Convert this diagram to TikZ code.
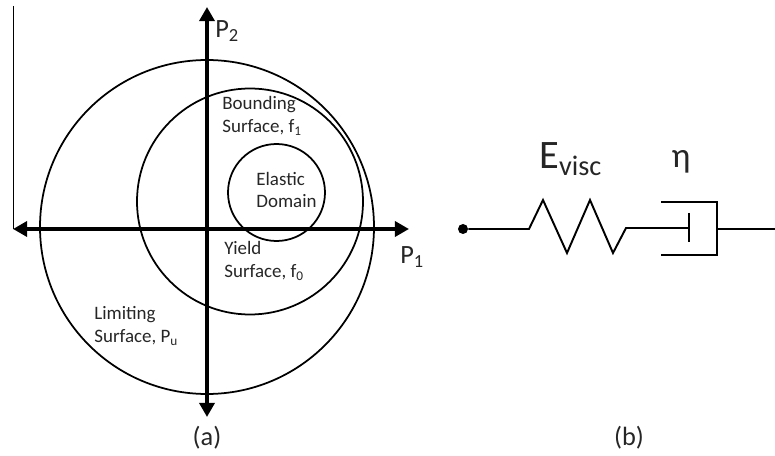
\documentclass[tikz,border=0pt]{standalone}
\usepackage{xcolor}
\usepackage{fontspec}
\setmainfont{Carlito}
\usetikzlibrary{arrows.meta}
\tikzset{
  surface/.style={draw,circle,inner sep=0pt,line width=1pt},
  axisline/.style={line width=2.3pt,{Triangle[length=8pt,width=8.5pt]}-{Triangle[length=8pt,width=8.5pt]}},
  wire/.style={line width=1.1pt},
  lbl/.style={inner sep=0pt,align=left,anchor=west,font=\fontsize{10.8}{13}\selectfont,text=black!85},
  biglbl/.style={inner sep=0pt,font=\fontsize{15}{17}\selectfont,text=black!85},
}
\begin{document}
\begin{tikzpicture}[x=0.02cm,y=-0.02cm]
  \useasboundingbox (0,0) rectangle (775,456);
  % circles
  \node[surface,minimum size=334*0.02cm] (limit) at (207,227) {};
  \node[surface,minimum size=226*0.02cm] (bound) at (250,201.5) {};
  \node[surface,minimum size=97*0.02cm] (elastic) at (276.5,192.5) {};
  % axes
  \coordinate (west) at (13,229);
  \coordinate (east) at (409,229);
  \coordinate (north) at (207,7);
  \coordinate (south) at (207,417);
  \draw[line width=0.5pt] (13,6) -- (west);
  \draw[axisline] (west) -- (east);
  \draw[axisline] (south) -- (north);
  % labels
  \node[biglbl,anchor=west] (ptwo) at (215,31) {P\textsubscript{2}};
  \node[biglbl,anchor=west] (pone) at (400,257) {P\textsubscript{1}};
  \node[lbl] (boundtxt) at (222,116) {Bounding\\Surface, f\textsubscript{1}};
  \node[lbl] (elastictxt) at (256,190) {Elastic\\Domain};
  \node[lbl] (yieldtxt) at (224,261) {Yield\\Surface, f\textsubscript{0}};
  \node[lbl] (limittxt) at (94,326) {Limiting\\Surface, P\textsubscript{u}};
  \node[biglbl] (capa) at (207,438) {(a)};
  \node[biglbl] (capb) at (629,438) {(b)};
  % spring and dashpot
  \node[fill,circle,inner sep=0pt,minimum size=10*0.02cm] (start) at (463,229) {};
  \coordinate (s0) at (529,229);
  \coordinate (s5) at (626,228);
  \coordinate (plate) at (689,228);
  \coordinate (wall) at (717,229);
  \coordinate (end) at (775,229);
  \draw[wire] (start) -- (s0) -- (543,200) -- (567,253) -- (590,200) -- (613,253) -- (s5) -- (plate);
  \draw[wire] (689,213) -- (689,242);
  \draw[wire] (661,202) -- (717,202) -- (717,255) -- (661,255);
  \draw[wire] (wall) -- (end);
  \node[inner sep=0pt,anchor=west,font=\fontsize{23}{25}\selectfont,text=black!85] (evisc) at (539,159) {E\textsubscript{visc}};
  \node[inner sep=0pt,font=\fontsize{20}{24}\selectfont,text=black!85] (eta) at (681,162) {η};
\end{tikzpicture}
\end{document}
